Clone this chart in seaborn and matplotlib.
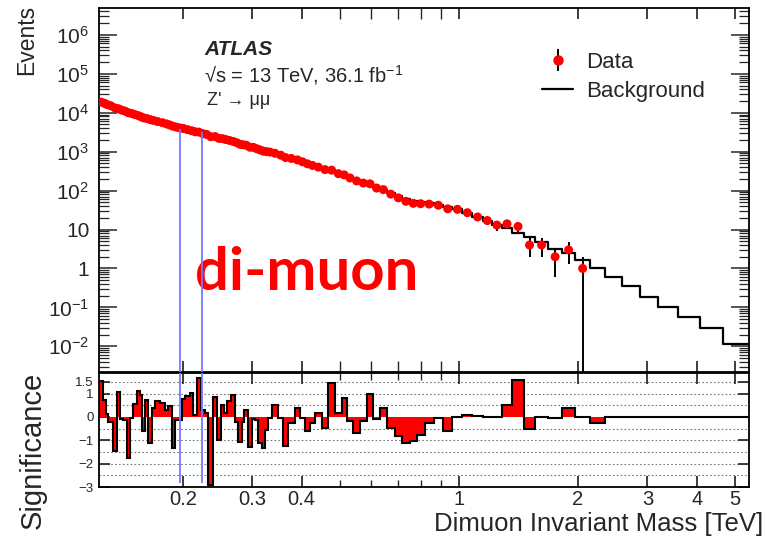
import numpy as np
import pandas as pd
import matplotlib
matplotlib.use("Agg")
import matplotlib.pyplot as plt
import seaborn as sns
from matplotlib.ticker import FixedLocator, FixedFormatter, NullFormatter, LogLocator

# ---------------- data ----------------
mass_edges = [0.1227, 0.1258, 0.1276, 0.1295, 0.1333, 0.1360, 0.1386, 0.1413, 0.1442, 0.1470,
              0.1498, 0.1528, 0.1558, 0.1579, 0.1604, 0.1635, 0.1668, 0.1700, 0.1750, 0.1802,
              0.1837, 0.1874, 0.1910, 0.1948, 0.1987, 0.2025, 0.2085, 0.2126, 0.2168, 0.2223,
              0.2276, 0.2320, 0.2388, 0.2440, 0.2498, 0.2542, 0.2594, 0.2656, 0.2718, 0.2766,
              0.2823, 0.2865, 0.2924, 0.2987, 0.3045, 0.3105, 0.3166, 0.3228, 0.3290, 0.3356,
              0.3488, 0.3591, 0.3684, 0.3844, 0.3958, 0.4075, 0.4195, 0.4320, 0.4492, 0.4668,
              0.4854, 0.5048, 0.5197, 0.5401, 0.5616, 0.5840, 0.6069, 0.6310, 0.6561, 0.6886,
              0.7161, 0.7515, 0.7814, 0.8182, 0.8626, 0.9111, 0.9628, 1.0194, 1.0813, 1.1489,
              1.2100, 1.2852, 1.3617, 1.4606, 1.5578, 1.6801, 1.8231, 1.9666, 2.1466, 2.3422,
              2.5862, 2.8727, 3.1901, 3.5846, 4.0750, 4.6598, 5.4235]

significance = [1.53, 0.74, 0.12, -0.20, -1.45, 1.05, -0.10, -0.15, -1.76, -0.05,
                0.55, 1.10, 0.95, -0.60, 0.74, -1.10, 0.40, 0.70, 0.60, 0.30,
                0.45, -1.35, -0.15, -0.15, 0.78, 0.89, 1.03, 0.10, 1.67, 0.31,
                0.15, -2.90, 0.87, -1.00, 0.50, 0.15, 0.70, 0.93, -0.20, -1.08,
                -0.20, 0.31, -1.30, -0.10, -0.15, -1.10, -1.33, -0.54, -0.04, 0.53,
                -0.04, -1.26, -0.26, 0.39, -0.04, -0.61, -0.26, 0.17, -0.47, 1.46,
                0.17, 0.81, -0.19, -0.69, -0.19, 0.96, -0.11, 0.39, -0.47, -0.83,
                -1.10, -1.04, -0.76, -0.25, -0.04, -0.60, 0.00, 0.10, 0.02, 0.00,
                0.00, 0.50, 1.60, -0.50, 0.00, -0.05, 0.40, 0.00, -0.25, 0.00,
                0.00, 0.00, 0.00, 0.00, 0.00, 0.00]

background = [18600, 17400, 16200, 15100, 13500, 12600, 11700, 11000, 10200, 9550,
              8910, 8320, 7760, 7410, 7080, 6760, 6310, 5890, 5500, 5130,
              4790, 4570, 4270, 4070, 3890, 3630, 3390, 3240, 3090, 2880,
              2750, 2570, 2400, 2240, 2140, 2040, 1910, 1780, 1700, 1580,
              1510, 1450, 1350, 1290, 1200, 1150, 1070, 1020, 977, 891,
              813, 741, 676, 603, 550, 501, 447, 398, 355, 309,
              269, 240, 214, 186, 158, 138, 117, 102, 85.1, 72.4,
              61.7, 55.0, 51.3, 46.8, 42.7, 38.0, 33.1, 26.9, 21.4, 16.6,
              13.2, 11.0, 8.1, 6.3, 4.9, 3.2, 2.5, 1.6, 1.02, 0.60,
              0.357, 0.19, 0.105, 0.056, 0.029, 0.0115]

data_counts = [18700, 17500, 16200, 15100, 13300, 12700, 11700, 11000, 10000, 9550,
               8960, 8420, 7840, 7360, 7140, 6670, 6340, 5940, 5540, 5150,
               4820, 4480, 4260, 4060, 3940, 3680, 3450, 3250, 3180, 2900,
               2760, 2420, 2440, 2190, 2160, 2050, 1940, 1820, 1690, 1540,
               1500, 1460, 1300, 1290, 1190, 1110, 1030, 1000, 976, 907,
               812, 707, 669, 613, 549, 487, 442, 401, 346, 335,
               272, 253, 211, 177, 156, 149, 116, 106, 81, 65,
               53, 47, 46, 45, 42, 34, 33, 27, 21, 17,
               13, 14, 12, 4, 4, 2, 3, 1, 0, 0,
               0, 0, 0, 0, 0, 0]

mass_ticks = [0.2, 0.3, 0.4, 1, 2, 3, 4, 5]
mass_tick_labels = ["0.2", "0.3", "0.4", "1", "2", "3", "4", "5"]
event_ticks = [1e-2, 1e-1, 1, 10, 1e2, 1e3, 1e4, 1e5, 1e6]
event_tick_labels = [r"$10^{-2}$", r"$10^{-1}$", "1", "10", r"$10^{2}$", r"$10^{3}$",
                     r"$10^{4}$", r"$10^{5}$", r"$10^{6}$"]
sig_ticks = [-3, -2, -1, 0, 1, 1.5]
sig_tick_labels = ["\u22123", "\u22122", "\u22121", "0", "1", "1.5"]
marker_masses = [0.1966, 0.2235]

# ---------------- style ----------------
sns.set_theme(style="ticks")
plt.rcParams["font.family"] = ["Liberation Sans", "DejaVu Sans"]
plt.rcParams["mathtext.fontset"] = "custom"
plt.rcParams["mathtext.rm"] = "Liberation Sans"
plt.rcParams["mathtext.it"] = "Liberation Sans:italic"
plt.rcParams["mathtext.bf"] = "Liberation Sans:bold"
plt.rcParams["axes.linewidth"] = 1.3
plt.rcParams["axes.edgecolor"] = "black"

edges = np.array(mass_edges)
df = pd.DataFrame({
    "lo": edges[:-1], "hi": edges[1:],
    "center": 0.5 * (edges[:-1] + edges[1:]),
    "bkg": background, "data": data_counts, "sig": significance,
})

W, H = 768, 545
fig = plt.figure(figsize=(W / 100, H / 100), dpi=100)
L, R = 99 / W, 749 / W
ax = fig.add_axes([L, 1 - 372 / H, R - L, (372 - 8) / H])
ax2 = fig.add_axes([L, 1 - 487 / H, R - L, (487 - 373) / H], sharex=ax)

# ---------------- main panel ----------------
ax.set_xscale("log")
ax.set_yscale("log")
step_df = pd.DataFrame({"m": list(edges), "b": list(background) + [background[-1]]})
sns.lineplot(data=step_df, x="m", y="b", drawstyle="steps-post", color="black",
             lw=1.6, estimator=None, ax=ax, zorder=2, label="Background")

pts = df[df["data"] > 0]
err = np.sqrt(pts["data"].to_numpy(dtype=float))
ax.errorbar(pts["center"], pts["data"], yerr=err, fmt="none", ecolor="black",
            elinewidth=1.4, capsize=0, zorder=3)
sns.scatterplot(data=pts, x="center", y="data", color="red", s=42, edgecolor="none",
                ax=ax, zorder=4, legend=False)

ax.vlines(marker_masses, 2e-3, [3750, 3150], color="#7878ff", lw=1.3, zorder=5)

ax.set_xlim(mass_edges[0], mass_edges[-1])
ax.set_ylim(10 ** -2.66, 10 ** 6.69)
ax.yaxis.set_major_locator(FixedLocator(event_ticks))
ax.yaxis.set_major_formatter(FixedFormatter(event_tick_labels))
ax.yaxis.set_minor_locator(LogLocator(base=10, subs=np.arange(2, 10), numticks=30))
ax.yaxis.set_minor_formatter(NullFormatter())
ax.tick_params(axis="y", which="major", labelsize=15, length=13, width=1.1,
               direction="in", left=True, right=True, pad=7)
ax.tick_params(axis="y", which="minor", length=7, width=0.9, direction="in",
               left=True, right=True)
ax.tick_params(axis="x", which="both", direction="in", top=True, bottom=True,
               labelbottom=False, length=8)
ax.set_xlabel("")
ax.set_ylabel("")

# legend
h_data = ax.errorbar([np.nan], [np.nan], yerr=[1], fmt="o", color="red", ms=6.5,
                     ecolor="black", elinewidth=1.4)
h_bkg = ax.get_lines()[0]
leg = ax.legend([h_data, h_bkg], ["Data", "Background"], loc="upper left",
                bbox_to_anchor=(0.651, 0.934), frameon=False, fontsize=16,
                handlelength=1.4, handletextpad=0.6, labelspacing=0.35)

ax.text(0.1615, 0.871, "ATLAS", transform=ax.transAxes, fontsize=15,
        fontweight="bold", fontstyle="italic")
ax.text(0.1615, 0.797, "\u221as = 13 TeV, 36.1 fb$^{-1}$", transform=ax.transAxes,
        fontsize=14.5)
ax.text(0.166, 0.734, "Z' \u2192 \u03bc\u03bc", transform=ax.transAxes, fontsize=13,
        family=["Liberation Sans", "DejaVu Sans"])
ax.text(0.148, 0.225, "di-muon", transform=ax.transAxes, fontsize=43,
        fontweight="bold", color="#ff0000", family=["Lato", "DejaVu Sans"])

# ---------------- significance panel ----------------
for g in [-2.5, -2, -1.5, -1, -0.5, 0.5, 1, 1.5]:
    ax2.axhline(g, color="#777777", lw=0.8, dashes=(1.5, 2.0), zorder=0)
ax2.stairs(df["sig"], edges, fill=True, color="red", lw=0, baseline=0, zorder=2)
ax2.stairs(df["sig"], edges, baseline=None, color="black", lw=1.5, zorder=3)
ax2.vlines(marker_masses, -2.85, 2.0, color="#7878ff", lw=1.3, zorder=5)
ax2.set_ylim(-3, 1.88)
ax2.set_yticks(sig_ticks)
ax2.set_yticklabels(sig_tick_labels)
ax2.set_xscale("log")
ax2.xaxis.set_major_locator(FixedLocator(mass_ticks))
ax2.xaxis.set_major_formatter(FixedFormatter(mass_tick_labels))
ax2.xaxis.set_minor_locator(FixedLocator([0.5, 0.6, 0.7, 0.8, 0.9]))
ax2.xaxis.set_minor_formatter(NullFormatter())
ax2.tick_params(axis="x", which="major", labelsize=14.5, length=8, direction="in",
                top=True, bottom=True, pad=2)
ax2.tick_params(axis="x", which="minor", length=5, direction="in", top=True, bottom=True)
ax2.tick_params(axis="y", which="major", labelsize=9.5, length=8, direction="in",
                left=True, right=True, pad=4)
ax2.set_xlim(mass_edges[0], mass_edges[-1])
ax2.set_xlabel("")
ax2.set_ylabel("")

fig.text(27 / W, 1 - 5 / H, "Events", rotation=90, ha="center", va="top", fontsize=16.5)
fig.text(33 / W, 1 - 372 / H, "Significance", rotation=90, ha="center", va="top",
         fontsize=21)
fig.text(763 / W, 1 - 531 / H, "Dimuon Invariant Mass [TeV]", ha="right",
         va="baseline", fontsize=18.5)

fig.savefig("out.png", dpi=100)
